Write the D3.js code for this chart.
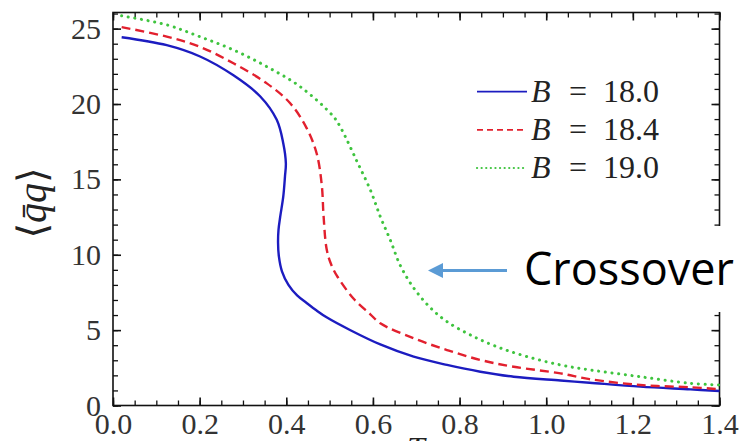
<!DOCTYPE html>
<html>
<head>
  <meta charset="UTF-8">
  <script src="https://d3js.org/d3.v7.min.js"></script>
</head>
<body style="margin:0">
<svg id="chart" width="740" height="441"></svg>
<script>
// data
const blueX = [0.02, 0.124, 0.201, 0.278, 0.34, 0.378, 0.393, 0.399, 0.397, 0.393, 0.386, 0.382, 0.381, 0.383, 0.39, 0.405, 0.425, 0.447, 0.47, 0.493, 0.547, 0.617, 0.694, 0.771, 0.848, 0.925, 1.033, 1.10, 1.217, 1.333, 1.4];
const blueY = [24.43, 23.9, 23.15, 21.9, 20.5, 18.95, 17.4, 16.07, 15.2, 13.85, 12.53, 11.64, 10.8, 9.87, 8.9, 8.0, 7.3, 6.8, 6.3, 5.85, 5.01, 4.05, 3.24, 2.69, 2.24, 1.91, 1.66, 1.51, 1.25, 1.07, 0.96];

const redX = [0.02, 0.124, 0.2, 0.278, 0.355, 0.409, 0.447, 0.47, 0.482, 0.486, 0.493, 0.503, 0.517, 0.555, 0.594, 0.617, 0.694, 0.771, 0.848, 0.925, 1.033, 1.10, 1.217, 1.333, 1.4];
const redY = [25.1, 24.47, 23.8, 22.7, 21.37, 20.05, 18.4, 16.73, 14.6, 12.6, 10.4, 9.4, 8.6, 7.1, 6.05, 5.45, 4.46, 3.68, 3.02, 2.57, 2.13, 1.75, 1.36, 1.21, 1.08];

const greenX = [0.02, 0.124, 0.2, 0.278, 0.355, 0.432, 0.509, 0.528, 0.563, 0.594, 0.617, 0.64, 0.663, 0.694, 0.732, 0.771, 0.825, 0.886, 0.956, 1.033, 1.102, 1.217, 1.333, 1.4];
const greenY = [25.85, 25.25, 24.47, 23.59, 22.48, 21.15, 19.16, 18.3, 16.2, 14.3, 12.53, 10.98, 9.3, 7.8, 6.5, 5.56, 4.68, 3.9, 3.24, 2.69, 2.36, 1.91, 1.47, 1.36];

const seriesNames = ["B = 18.0", "B = 18.4", "B = 19.0"];
const xTicks = [0, 0.2, 0.4, 0.6, 0.8, 1.0, 1.2, 1.4];
const yTicks = [0, 5, 10, 15, 20, 25];

const SERIF = '"Liberation Serif", "Times New Roman", "DejaVu Serif"';
const W = 740, H = 441;
const svg = d3.select("#chart");
svg.append("rect").attr("width", W).attr("height", H).attr("fill", "white");

const pLeft = 113, pRight = 719.5, pTop = 12.5, pBottom = 405.5;
const x = d3.scaleLinear().domain([0, 1.4]).range([pLeft, pRight]);
const y = d3.scaleLinear().domain([0, 26.07]).range([pBottom, pTop]);

const xMinor = d3.range(0, 1.4001, 0.05);
const yMinor = d3.range(0, 26.01, 1);

// minor ticks on all four sides
function minor(gen, vals, tr) {
  svg.append("g").attr("transform", tr)
    .call(gen.tickValues(vals).tickSize(-5).tickFormat(""))
    .call(g => g.select(".domain").remove())
    .selectAll("line").attr("stroke", "#111").attr("stroke-width", 1.3);
}
minor(d3.axisBottom(x), xMinor, `translate(0,${pBottom})`);
minor(d3.axisTop(x), xMinor, `translate(0,${pTop})`);
minor(d3.axisLeft(y), yMinor, `translate(${pLeft},0)`);
minor(d3.axisRight(y), yMinor, `translate(${pRight},0)`);

function styleAxis(g) {
  g.attr("font-family", null).attr("font-size", null);
  g.select(".domain").remove();
  g.selectAll("line").attr("stroke", "#111").attr("stroke-width", 1.6);
  g.selectAll("text")
    .style("font-family", SERIF)
    .style("font-size", "30px")
    .attr("fill", "#333");
}

// major ticks
const fmtX = d3.format(".1f");
svg.append("g").attr("transform", `translate(0,${pBottom})`)
  .call(d3.axisBottom(x).tickValues(xTicks).tickSize(-8).tickPadding(7).tickFormat(fmtX))
  .call(styleAxis);
svg.append("g").attr("transform", `translate(0,${pTop})`)
  .call(d3.axisTop(x).tickValues(xTicks).tickSize(-8).tickFormat(""))
  .call(styleAxis);
svg.append("g").attr("transform", `translate(${pLeft},0)`)
  .call(d3.axisLeft(y).tickValues(yTicks).tickSize(-8).tickPadding(12))
  .call(styleAxis);
svg.append("g").attr("transform", `translate(${pRight},0)`)
  .call(d3.axisRight(y).tickValues(yTicks).tickSize(-8).tickFormat(""))
  .call(styleAxis);

// frame
svg.append("rect")
  .attr("x", pLeft).attr("y", pTop)
  .attr("width", pRight - pLeft).attr("height", pBottom - pTop)
  .attr("fill", "none").attr("stroke", "#111").attr("stroke-width", 1.6);

// curves
const line = d3.line().x(d => x(d[0])).y(d => y(d[1])).curve(d3.curveCatmullRom.alpha(0.5));
const series = [
  { xs: blueX, ys: blueY, color: "#1c1cc0", dash: null, w: 2.4, cap: "butt" },
  { xs: redX, ys: redY, color: "#e2202e", dash: "9 5", w: 2.4, cap: "butt" },
  { xs: greenX, ys: greenY, color: "#3fc43f", dash: "0.1 6.6", w: 3, cap: "round" }
];
series.forEach(s => {
  svg.append("path")
    .datum(s.xs.map((v, i) => [v, s.ys[i]]))
    .attr("d", line)
    .attr("fill", "none")
    .attr("stroke", s.color)
    .attr("stroke-width", s.w)
    .attr("stroke-linecap", s.cap)
    .attr("stroke-dasharray", s.dash);
});

// legend
const legend = svg.append("g");
const ly = d3.scalePoint().domain(seriesNames).range([91.7, 168]);
seriesNames.forEach((name, i) => {
  const s = series[i];
  const yy = ly(name);
  legend.append("line")
    .attr("x1", 477).attr("x2", 527)
    .attr("y1", yy).attr("y2", yy)
    .attr("stroke", s.color).attr("stroke-width", i == 2 ? 2.2 : 1.8)
    .attr("stroke-linecap", s.cap)
    .attr("stroke-dasharray", i == 1 ? "6 4" : (i == 2 ? "0.1 4.5" : null));
  const parts = name.split(" ");
  const t = legend.append("text").attr("y", yy + 10)
    .style("font-family", SERIF).style("font-size", "32px").attr("fill", "#222");
  t.append("tspan").attr("x", 531).style("font-style", "italic").text(parts[0]);
  t.append("tspan").attr("x", 569).text(parts[1]);
  t.append("tspan").attr("x", 603).text(parts[2]);
});

// y axis label
const yl = svg.append("text")
  .attr("transform", "translate(46,203) rotate(-90)")
  .attr("text-anchor", "middle")
  .style("font-family", SERIF)
  .style("font-size", "40px")
  .attr("fill", "#222");
yl.append("tspan").text("\u27E8");
yl.append("tspan").style("font-style", "italic").text("q\u0304q");
yl.append("tspan").text("\u27E9");

// x axis label, mostly cut off by the bottom edge
svg.append("text")
  .attr("x", 416).attr("y", 459)
  .attr("text-anchor", "middle")
  .style("font-family", SERIF)
  .style("font-style", "italic")
  .style("font-size", "32px")
  .attr("fill", "#222")
  .text("T");

// annotation
svg.append("rect").attr("x", 512).attr("y", 226).attr("width", 228).attr("height", 86).attr("fill", "white");
svg.append("text")
  .attr("x", 524).attr("y", 285)
  .style("font-family", '"Open Sans"')
  .style("font-size", "45px")
  .attr("fill", "black")
  .text("Crossover");
svg.append("line")
  .attr("x1", 507).attr("x2", 441)
  .attr("y1", 270.5).attr("y2", 270.5)
  .attr("stroke", "#5b9bd5").attr("stroke-width", 3);
svg.append("path")
  .attr("d", "M428,270.5 L443,263 L443,278 Z")
  .attr("fill", "#5b9bd5");
</script>
</body>
</html>
